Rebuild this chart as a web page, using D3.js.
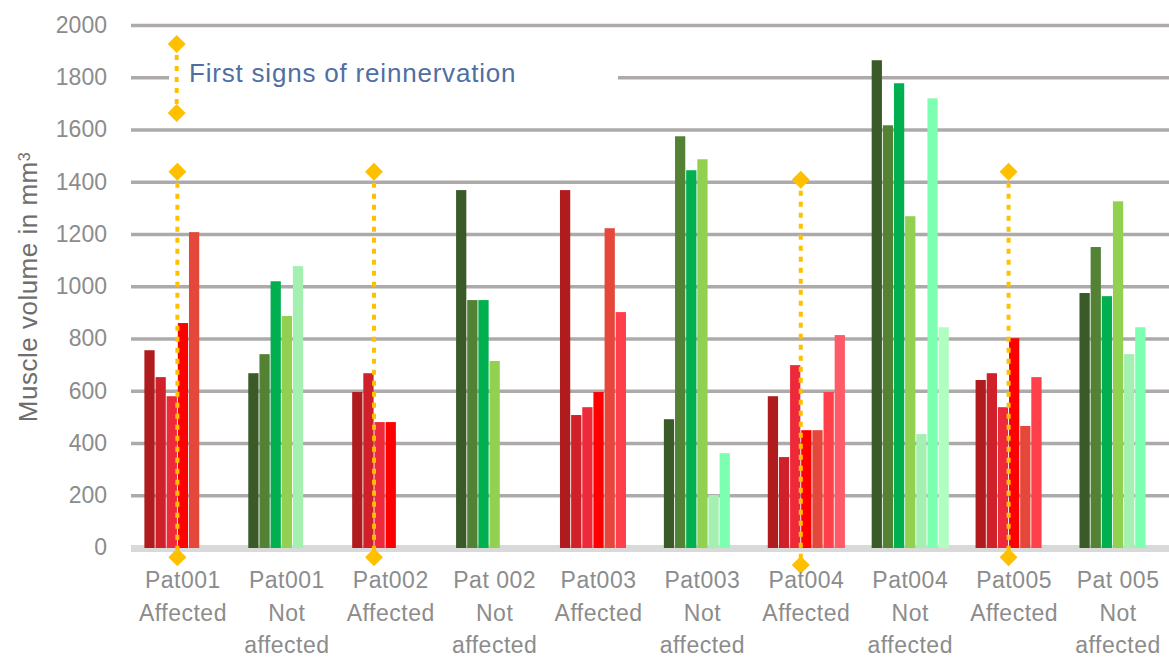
<!DOCTYPE html>
<html>
<head>
<meta charset="utf-8">
<script src="https://cdn.jsdelivr.net/npm/d3@7"></script>
<style>
  body { margin: 0; background: #fff; }
  text { font-family: "Liberation Sans", Arial, sans-serif; }
</style>
</head>
<body>
<script>
// categories along the x axis (one per patient / side)
const categories = ["Pat001 Affected", "Pat001 Not affected", "Pat002 Affected", "Pat002 Not affected",
  "Pat003 Affected", "Pat003 Not affected", "Pat004 Affected", "Pat004 Not affected",
  "Pat005 Affected", "Pat005 Not affected"];
const labelLines = [["Pat001", "Affected"], ["Pat001", "Not", "affected"], ["Pat002", "Affected"],
  ["Pat 002", "Not", "affected"], ["Pat003", "Affected"], ["Pat003", "Not", "affected"],
  ["Pat004", "Affected"], ["Pat004", "Not", "affected"], ["Pat005", "Affected"], ["Pat 005", "Not", "affected"]];

// measurement series (one bar per series inside each category)
const seriesNames = ["T1", "T2", "T3", "T4", "T5", "T6", "T7"];
const t1 = [757, 669, 597, 1370, 1370, 493, 581, 1867, 643, 976];
const t2 = [654, 742, 669, 949, 509, 1576, 348, 1618, 669, 1152];
const t3 = [581, 1021, 482, 949, 539, 1446, 700, 1779, 539, 964];
const t4 = [861, 888, 482, 716, 597, 1488, 451, 1270, 803, 1327];
const t5 = [1209, 1079, null, null, 1224, 203, 451, 436, 467, 742];
const t6 = [null, null, null, null, 903, 363, 597, 1721, 654, 845];
const t7 = [null, null, null, null, null, null, 815, 845, null, null];
const seriesValues = [t1, t2, t3, t4, t5, t6, t7];

const yTicks = [0, 200, 400, 600, 800, 1000, 1200, 1400, 1600, 1800, 2000];

// first signs of reinnervation: category, series slot it sits before, line top / bottom value
const reinCats = ["Pat001 Affected", "Pat002 Affected", "Pat004 Affected", "Pat005 Affected"];
const reinSlots = ["T4", "T3", "T4", "T4"];
const reinTop = [1440, 1440, 1410, 1440];
const reinBottom = [-35, -35, -65, -35];

const redColors = ["#B01C1E", "#D0202A", "#EE2A3A", "#FF0000", "#E5483A", "#FF3F4A", "#FF5A68"];
const greenColors = ["#3A5A27", "#548235", "#00B050", "#92D050", "#A3F0B0", "#7CFFB0", "#B0FFC0"];

const W = 1169, H = 657;
const plotLeft = 131, plotRight = 1170, plotTop = 25.5, plotBottom = 548;

const svg = d3.select("body").append("svg")
  .attr("width", W)
  .attr("height", H);

const x0 = d3.scaleBand().domain(categories).range([plotLeft, plotRight]).padding(0);
const x1 = d3.scaleBand().domain(seriesNames).range([0, x0.bandwidth()])
  .paddingOuter(1.2).paddingInner(0.08);
const y = d3.scaleLinear().domain([0, 2000]).range([plotBottom, plotTop]);

// gridlines
svg.append("g")
  .selectAll("line")
  .data(yTicks.filter(d => d > 0))
  .enter()
  .append("line")
  .attr("x1", plotLeft).attr("x2", W)
  .attr("y1", d => y(d)).attr("y2", d => y(d))
  .attr("stroke", "#AEAAAA")
  .attr("stroke-width", 3.5);

// x axis baseline
svg.append("line")
  .attr("x1", plotLeft).attr("x2", W)
  .attr("y1", y(0) + 0.5).attr("y2", y(0) + 0.5)
  .attr("stroke", "#D9D9D9")
  .attr("stroke-width", 7);

// y axis labels
const yAxis = svg.append("g")
  .attr("transform", `translate(${plotLeft - 24},0)`)
  .call(d3.axisLeft(y).tickValues(yTicks).tickSize(0).tickPadding(0).tickFormat(d3.format("d")));
yAxis.select(".domain").remove();
yAxis.selectAll("text")
  .attr("font-size", "23px")
  .attr("font-family", "Liberation Sans, Arial, sans-serif")
  .attr("fill", "#8C8C8C")
  .attr("dy", "0.3em");

// bars
const barData = [];
categories.forEach((c, ci) => {
  seriesNames.forEach((s, si) => {
    const v = seriesValues[si][ci];
    if (v != null) barData.push({ cat: c, series: s, si: si, value: v, affected: !c.includes("Not") });
  });
});

svg.append("g")
  .selectAll("rect")
  .data(barData)
  .enter()
  .append("rect")
  .attr("x", d => x0(d.cat) + x1(d.series))
  .attr("y", d => y(d.value))
  .attr("width", x1.bandwidth())
  .attr("height", d => y(0) - y(d.value))
  .attr("fill", d => d.affected ? redColors[d.si] : greenColors[d.si]);

// diamond marker path
function diamond(cx, cy) {
  return `M${cx},${cy - 9}L${cx + 9},${cy}L${cx},${cy + 9}L${cx - 9},${cy}Z`;
}

// reinnervation lines
const rein = reinCats.map((c, i) => ({
  x: x0(c) + x1(reinSlots[i]) - (x1.step() - x1.bandwidth()) / 2,
  y1: y(reinTop[i]),
  y2: y(reinBottom[i])
}));

const rg = svg.append("g");
rg.selectAll("line")
  .data(rein)
  .enter()
  .append("line")
  .attr("x1", d => d.x).attr("x2", d => d.x)
  .attr("y1", d => d.y1).attr("y2", d => d.y2)
  .attr("stroke", "#FFC000")
  .attr("stroke-width", 4)
  .attr("stroke-dasharray", "5,6");
rg.selectAll("path.top")
  .data(rein)
  .enter()
  .append("path")
  .attr("d", d => diamond(d.x, d.y1))
  .attr("fill", "#FFC000");
rg.selectAll("path.bot")
  .data(rein)
  .enter()
  .append("path")
  .attr("d", d => diamond(d.x, d.y2))
  .attr("fill", "#FFC000");

// annotation box (covers the 1800 gridline)
svg.append("rect")
  .attr("x", 169).attr("y", 33)
  .attr("width", 449).attr("height", 89)
  .attr("fill", "#fff");

svg.append("line")
  .attr("x1", 176.7).attr("x2", 176.7)
  .attr("y1", 44).attr("y2", 113)
  .attr("stroke", "#FFC000")
  .attr("stroke-width", 4)
  .attr("stroke-dasharray", "5,6");
svg.append("path").attr("d", diamond(176.7, 44)).attr("fill", "#FFC000");
svg.append("path").attr("d", diamond(176.7, 113)).attr("fill", "#FFC000");

svg.append("text")
  .attr("x", 189).attr("y", 82)
  .attr("font-size", "26px")
  .attr("letter-spacing", "0.8px")
  .attr("fill", "#4F6FA3")
  .text("First signs of reinnervation");

// x labels
const xl = svg.append("g")
  .selectAll("text")
  .data(categories)
  .enter()
  .append("text")
  .attr("text-anchor", "middle")
  .attr("font-size", "23px")
  .attr("letter-spacing", "0.5px")
  .attr("fill", "#8C8C8C");
xl.each(function(c, i) {
  const t = d3.select(this);
  labelLines[i].forEach((line, li) => {
    t.append("tspan")
      .attr("x", x0(c) + x0.bandwidth() / 2)
      .attr("y", 588 + li * 32.5)
      .text(line);
  });
});

// y title
svg.append("text")
  .attr("transform", "translate(37, 287) rotate(-90)")
  .attr("text-anchor", "middle")
  .attr("font-size", "26px")
  .attr("letter-spacing", "0.5px")
  .attr("fill", "#6E6E6E")
  .text("Muscle volume in mm")
  .append("tspan")
  .attr("dy", "-0.45em")
  .attr("font-size", "16px")
  .text("3");
</script>
</body>
</html>
